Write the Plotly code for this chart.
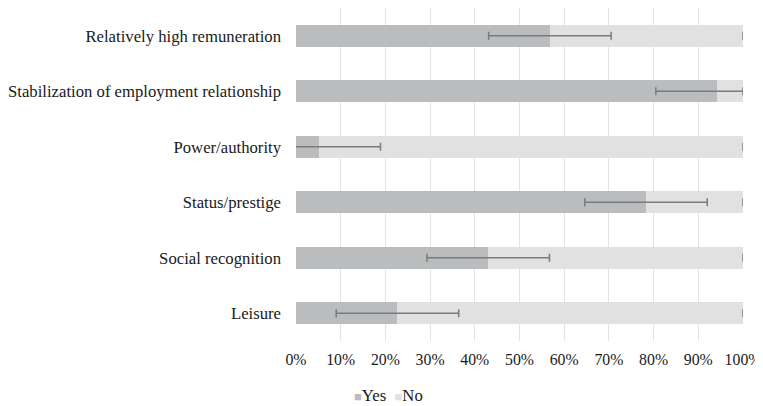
import plotly.graph_objects as go

categories = [
    "Relatively high remuneration",
    "Stabilization of employment relationship",
    "Power/authority",
    "Status/prestige",
    "Social recognition",
    "Leisure",
]
yes_pct = [56.8, 94.2, 5.2, 78.3, 43.0, 22.7]
no_pct = [round(100 - v, 1) for v in yes_pct]
yes_err = [13.7, 13.7, 13.7, 13.7, 13.7, 13.7]
no_err = [0, 0, 0, 0, 0, 0]
tick_vals = [0, 10, 20, 30, 40, 50, 60, 70, 80, 90, 100]
tick_text = ["0%", "10%", "20%", "30%", "40%", "50%", "60%", "70%", "80%", "90%", "100%"]

YES_COLOR = "#bbbcbe"
NO_COLOR = "#e1e1e1"
ERR_COLOR = "#7b7b7b"
FONT = "Liberation Serif"
FS = 16.7

totals = [y + n for y, n in zip(yes_pct, no_pct)]

fig = go.Figure()
fig.add_trace(go.Bar(
    y=categories, x=yes_pct, name="Yes", orientation="h",
    marker=dict(color=YES_COLOR, line=dict(width=0)),
    showlegend=False,
))
fig.add_trace(go.Bar(
    y=categories, x=no_pct, name="No", orientation="h",
    marker=dict(color=NO_COLOR, line=dict(width=0)),
    showlegend=False,
))
# error bars drawn on top of the stacked bars
fig.add_trace(go.Scatter(
    y=categories, x=yes_pct, mode="markers", name="Yes error",
    marker=dict(opacity=0, size=1),
    error_x=dict(type="data", array=yes_err, color=ERR_COLOR, thickness=1.5, width=4),
    showlegend=False, hoverinfo="skip",
))
fig.add_trace(go.Scatter(
    y=categories, x=totals, mode="markers", name="No error",
    marker=dict(opacity=0, size=1),
    error_x=dict(type="data", array=no_err, color=ERR_COLOR, thickness=1.5, width=4),
    showlegend=False, hoverinfo="skip", cliponaxis=False,
))

fig.update_layout(
    barmode="stack",
    bargap=0.6,
    width=763, height=398,
    margin=dict(l=288, r=28, t=0, b=65),
    paper_bgcolor="white",
    plot_bgcolor="white",
    font=dict(family=FONT, size=FS, color="#1a1a1a"),
    xaxis=dict(
        range=[0, 100], tickvals=tick_vals, ticktext=tick_text,
        tickfont=dict(family=FONT, size=15.8),
        showgrid=True, gridcolor="#e3e3e3", gridwidth=1.3,
        zeroline=False, showline=False, ticks="",
        ticklabelstandoff=7, automargin=False, ticklabeloverflow="allow",
    ),
    yaxis=dict(
        autorange="reversed", showgrid=False, zeroline=False,
        showline=False, ticks="", ticklabelstandoff=14, automargin=False,
    ),
    annotations=[
        dict(
            xref="paper", yref="paper", x=(352 - 296) / 447, y=-0.163,
            xanchor="left", yanchor="middle", showarrow=False,
            text=(f'<span style="color:{YES_COLOR};font-size:13px">■</span>Yes'
                  f'&nbsp;&nbsp;<span style="color:{NO_COLOR};font-size:13px">■</span>No'),
            font=dict(family=FONT, size=FS, color="#1a1a1a"),
        )
    ],
)

fig.write_html("out.html")
